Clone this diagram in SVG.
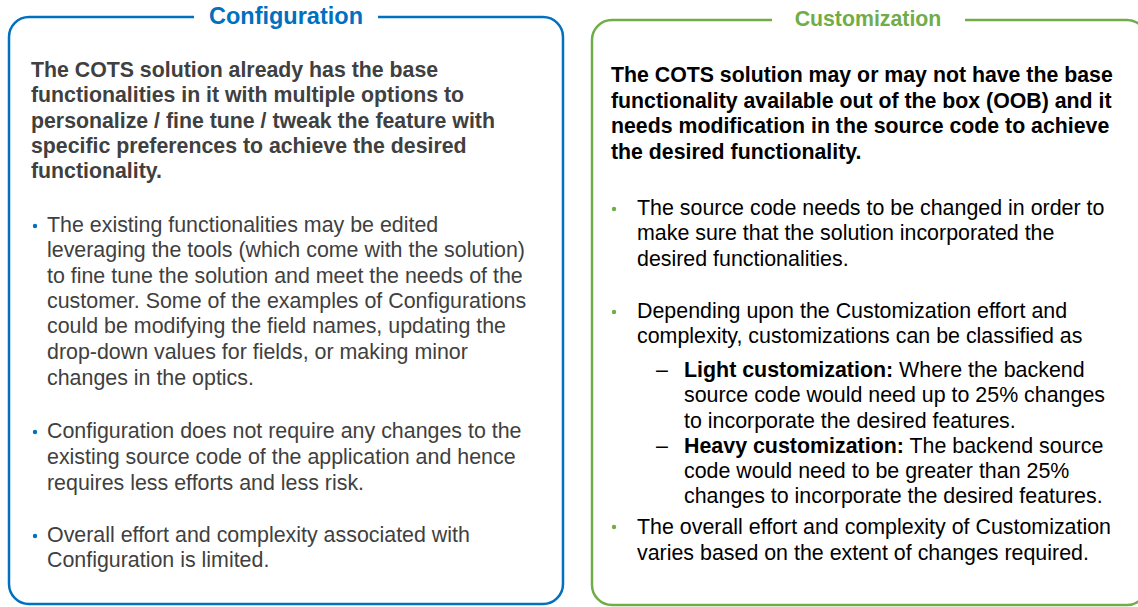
<svg xmlns="http://www.w3.org/2000/svg" width="1138" height="607" viewBox="0 0 1138 607">
<style>
.t{font-family:"Liberation Sans",Arial,sans-serif;}
.hd{font-size:21.3px;font-weight:bold;}
.bd{font-size:21.4px;}
.g{fill:#404040;}
.k{fill:#000;}
.ttl{font-weight:bold;text-anchor:middle;}
</style>
<rect width="1138" height="607" fill="#fff"/>
<g id="configuration">
<path d="M194,17 H29 A20,20 0 0 0 9,37 V584 A20,20 0 0 0 29,604 H543 A20,20 0 0 0 563,584 V37 A20,20 0 0 0 543,17 H378" fill="none" stroke="#0070C0" stroke-width="2.5"/>
<text class="t ttl" x="286" y="24" font-size="23.5" fill="#0070C0">Configuration</text>
<text class="t hd g" x="31">
<tspan x="31" y="77">The COTS solution already has the base</tspan>
<tspan x="31" y="102">functionalities in it with multiple options to</tspan>
<tspan x="31" y="128">personalize / fine tune / tweak the feature with</tspan>
<tspan x="31" y="153">specific preferences to achieve the desired</tspan>
<tspan x="31" y="178">functionality.</tspan>
</text>
<g fill="#0070C0">
<circle cx="35" cy="226" r="2.2"/>
<circle cx="35" cy="432" r="2.2"/>
<circle cx="35" cy="536" r="2.2"/>
</g>
<text class="t bd g">
<tspan x="47" y="232">The existing functionalities may be edited</tspan>
<tspan x="47" y="257">leveraging the tools (which come with the solution)</tspan>
<tspan x="47" y="283">to fine tune the solution and meet the needs of the</tspan>
<tspan x="47" y="308">customer. Some of the examples of Configurations</tspan>
<tspan x="47" y="333">could be modifying the field names, updating the</tspan>
<tspan x="47" y="359">drop-down values for fields, or making minor</tspan>
<tspan x="47" y="385">changes in the optics.</tspan>
<tspan x="47" y="438">Configuration does not require any changes to the</tspan>
<tspan x="47" y="464">existing source code of the application and hence</tspan>
<tspan x="47" y="490">requires less efforts and less risk.</tspan>
<tspan x="47" y="542">Overall effort and complexity associated with</tspan>
<tspan x="47" y="567">Configuration is limited.</tspan>
</text>
</g>
<g id="customization">
<path d="M772,20 H612 A20,20 0 0 0 592,40 V585 A20,20 0 0 0 612,605 H1127 A20,20 0 0 0 1147,585 V40 A20,20 0 0 0 1127,20 H965" fill="none" stroke="#70AD47" stroke-width="2.5"/>
<text class="t ttl" x="868" y="26" font-size="21.3" fill="#70AD47">Customization</text>
<text class="t hd k">
<tspan x="611" y="82">The COTS solution may or may not have the base</tspan>
<tspan x="611" y="108">functionality available out of the box (OOB) and it</tspan>
<tspan x="611" y="133">needs modification in the source code to achieve</tspan>
<tspan x="611" y="159">the desired functionality.</tspan>
</text>
<g fill="#70AD47">
<circle cx="614" cy="209" r="2.2"/>
<circle cx="614" cy="312" r="2.2"/>
<circle cx="614" cy="527" r="2.2"/>
</g>
<text class="t bd k">
<tspan x="637" y="215">The source code needs to be changed in order to</tspan>
<tspan x="637" y="240">make sure that the solution incorporated the</tspan>
<tspan x="637" y="266">desired functionalities.</tspan>
<tspan x="637" y="318">Depending upon the Customization effort and</tspan>
<tspan x="637" y="343">complexity, customizations can be classified as</tspan>
<tspan x="656" y="377">–</tspan>
<tspan x="684" y="377" font-weight="bold">Light customization:</tspan><tspan> Where the backend</tspan>
<tspan x="684" y="402">source code would need up to 25% changes</tspan>
<tspan x="684" y="428">to incorporate the desired features.</tspan>
<tspan x="656" y="453">–</tspan>
<tspan x="684" y="453" font-weight="bold">Heavy customization:</tspan><tspan> The backend source</tspan>
<tspan x="684" y="478">code would need to be greater than 25%</tspan>
<tspan x="684" y="503">changes to incorporate the desired features.</tspan>
<tspan x="637" y="534">The overall effort and complexity of Customization</tspan>
<tspan x="637" y="560">varies based on the extent of changes required.</tspan>
</text>
</g>
</svg>
